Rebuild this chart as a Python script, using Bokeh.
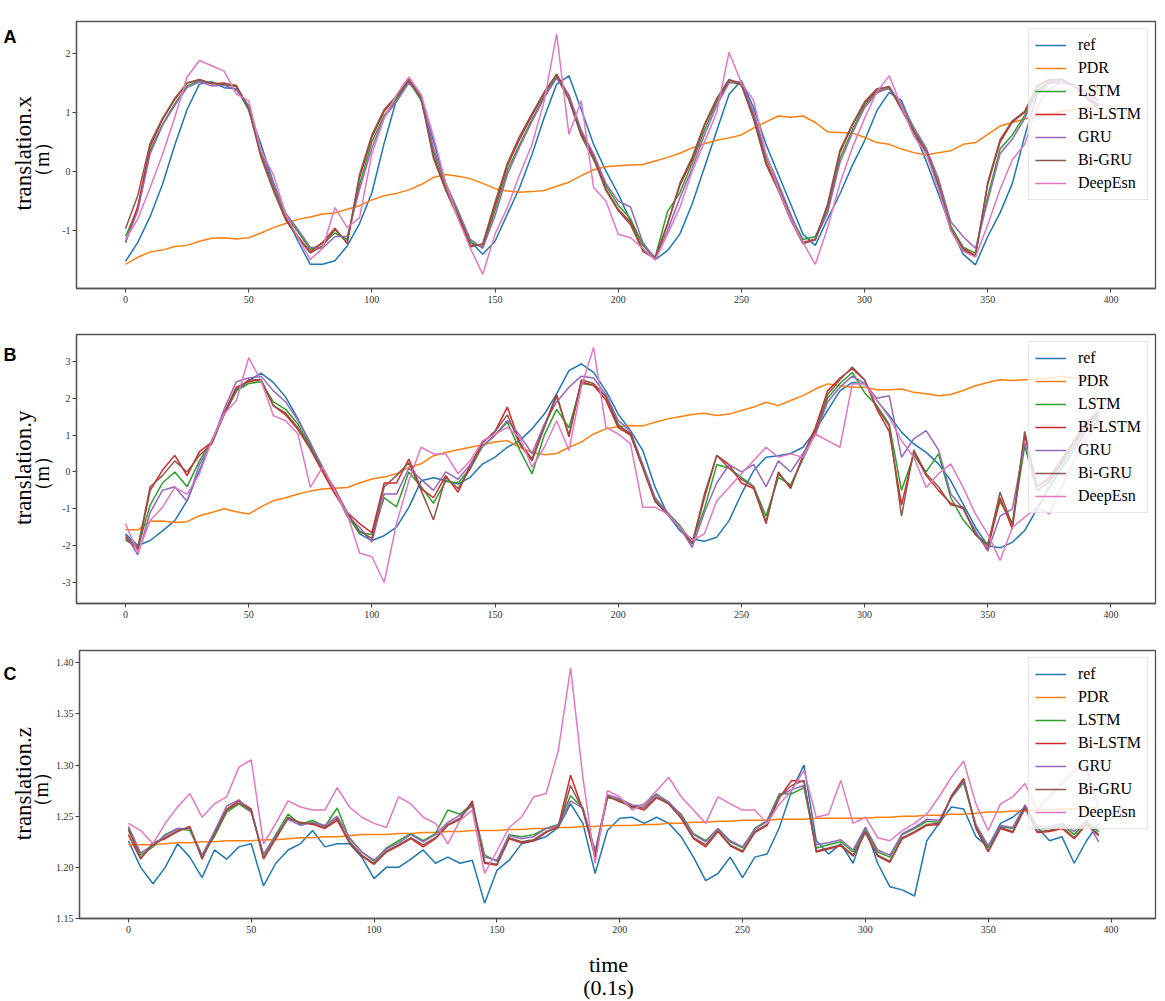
import math
from bokeh.plotting import figure
from bokeh.models import Range1d, FixedTicker, PrintfTickFormatter, Label, Legend, LegendItem
from bokeh.layouts import column, row
from bokeh.embed import file_html
from bokeh.resources import INLINE

# ---------------- data (every 5 time steps) ----------------
T = list(range(0, 400, 5))

NAMES = ["ref", "PDR", "LSTM", "Bi-LSTM", "GRU", "Bi-GRU", "DeepEsn"]
COLORS = ["#1f77b4", "#ff7f0e", "#2ca02c", "#d62728", "#9467bd", "#8c564b", "#e377c2"]
X_TICKS = [0, 50, 100, 150, 200, 250, 300, 350, 400]

# Panel A: translation.x
A_REF = [-1.52, -1.20, -0.76, -0.22, 0.45, 1.05, 1.48, 1.52, 1.42, 1.40,
         1.05, 0.46, -0.18, -0.74, -1.18, -1.57, -1.57, -1.51, -1.26, -0.88,
         -0.36, 0.48, 1.22, 1.56, 1.20, 0.52, -0.21, -0.72, -1.18, -1.40,
         -1.18, -0.72, -0.27, 0.29, 0.92, 1.48, 1.62, 1.05, 0.46, 0.01,
         -0.38, -0.84, -1.23, -1.49, -1.34, -1.06, -0.55, 0.07, 0.69, 1.31,
         1.54, 1.08, 0.46, -0.05, -0.55, -1.06, -1.25, -0.80, -0.38, 0.10,
         0.52, 1.03, 1.34, 1.20, 0.69, 0.18, -0.38, -0.95, -1.40, -1.58,
         -1.10, -0.70, -0.20, 0.60, 1.30, 1.50, 1.50, 1.45, 1.35, 1.20]
A_PDR = [-1.57, -1.45, -1.36, -1.33, -1.27, -1.25, -1.18, -1.13, -1.12, -1.14,
         -1.12, -1.04, -0.95, -0.88, -0.81, -0.77, -0.72, -0.70, -0.64, -0.58,
         -0.48, -0.41, -0.37, -0.31, -0.22, -0.10, -0.05, -0.08, -0.12, -0.20,
         -0.29, -0.33, -0.35, -0.34, -0.32, -0.25, -0.18, -0.07, 0.03, 0.08,
         0.10, 0.11, 0.12, 0.18, 0.24, 0.31, 0.40, 0.47, 0.53, 0.57,
         0.62, 0.74, 0.84, 0.94, 0.92, 0.94, 0.83, 0.67, 0.66, 0.65,
         0.58, 0.49, 0.46, 0.38, 0.32, 0.28, 0.32, 0.35, 0.46, 0.49,
         0.63, 0.77, 0.83, 0.89, 0.94, 0.98, 1.02, 1.05, 1.08, 1.10]
A_LSTM = [-1.10, -0.62, 0.35, 0.80, 1.15, 1.45, 1.54, 1.50, 1.47, 1.44,
          1.04, 0.32, -0.24, -0.74, -1.02, -1.32, -1.22, -1.04, -1.15, -0.22,
          0.50, 0.95, 1.22, 1.52, 1.22, 0.34, -0.24, -0.70, -1.20, -1.28,
          -0.66, 0.02, 0.46, 0.88, 1.28, 1.60, 1.22, 0.60, 0.20, -0.24,
          -0.57, -0.80, -1.25, -1.45, -0.68, -0.36, 0.14, 0.70, 1.18, 1.52,
          1.47, 0.95, 0.22, -0.24, -0.75, -1.15, -1.10, -0.66, 0.22, 0.70,
          1.12, 1.36, 1.40, 1.10, 0.70, 0.37, -0.18, -0.92, -1.28, -1.38,
          -0.42, 0.38, 0.62, 0.95, 1.38, 1.52, 1.55, 1.45, 1.25, 1.10]
A_BILSTM = [-1.20, -0.58, 0.42, 0.88, 1.22, 1.50, 1.56, 1.48, 1.50, 1.44,
            1.10, 0.26, -0.30, -0.80, -1.10, -1.36, -1.20, -0.96, -1.22, -0.10,
            0.58, 1.02, 1.27, 1.56, 1.28, 0.26, -0.30, -0.75, -1.25, -1.24,
            -0.58, 0.10, 0.55, 0.95, 1.33, 1.65, 1.28, 0.66, 0.26, -0.30,
            -0.64, -0.86, -1.32, -1.46, -0.88, -0.24, 0.20, 0.78, 1.22, 1.55,
            1.50, 0.90, 0.15, -0.30, -0.80, -1.20, -1.14, -0.58, 0.32, 0.78,
            1.16, 1.38, 1.44, 1.06, 0.67, 0.33, -0.24, -0.98, -1.30, -1.42,
            -0.22, 0.50, 0.84, 1.00, 1.44, 1.55, 1.56, 1.46, 1.26, 1.12]
A_GRU = [-1.20, -0.66, 0.30, 0.78, 1.12, 1.42, 1.52, 1.45, 1.46, 1.38,
         1.12, 0.36, -0.20, -0.70, -0.98, -1.28, -1.30, -1.10, -1.10, -0.30,
         0.40, 0.92, 1.18, 1.50, 1.30, 0.40, -0.20, -0.66, -1.15, -1.30,
         -0.75, -0.05, 0.42, 0.85, 1.25, 1.58, 1.30, 0.70, 0.30, -0.20,
         -0.50, -0.60, -1.20, -1.48, -1.00, -0.45, 0.05, 0.62, 1.12, 1.50,
         1.52, 1.00, 0.28, -0.20, -0.72, -1.22, -1.15, -0.70, 0.15, 0.65,
         1.08, 1.33, 1.42, 1.15, 0.75, 0.40, -0.12, -0.85, -1.10, -1.30,
         -0.50, 0.30, 0.55, 0.90, 1.35, 1.50, 1.54, 1.44, 1.24, 1.08]
A_BIGRU = [-0.97, -0.40, 0.48, 0.90, 1.24, 1.50, 1.55, 1.50, 1.48, 1.46,
           1.06, 0.24, -0.32, -0.82, -1.12, -1.38, -1.26, -0.98, -1.20, -0.05,
           0.62, 1.05, 1.28, 1.55, 1.24, 0.22, -0.32, -0.78, -1.28, -1.22,
           -0.52, 0.14, 0.60, 0.98, 1.35, 1.64, 1.22, 0.62, 0.22, -0.32,
           -0.66, -0.90, -1.35, -1.48, -0.90, -0.20, 0.24, 0.80, 1.24, 1.56,
           1.46, 0.88, 0.12, -0.32, -0.82, -1.22, -1.16, -0.55, 0.36, 0.80,
           1.18, 1.40, 1.43, 1.05, 0.66, 0.32, -0.26, -1.00, -1.32, -1.44,
           -0.18, 0.54, 0.86, 1.02, 1.45, 1.56, 1.56, 1.46, 1.26, 1.12]
A_DEEPESN = [-1.15, -0.80, -0.27, 0.29, 0.92, 1.60, 1.88, 1.79, 1.70, 1.31,
             1.20, 0.35, -0.05, -0.72, -1.12, -1.49, -1.30, -0.61, -0.95, -0.78,
             0.30, 0.90, 1.30, 1.60, 1.30, 0.60, -0.20, -0.80, -1.30, -1.74,
             -1.06, -0.61, -0.05, 0.46, 1.20, 2.33, 0.63, 1.20, -0.27, -0.50,
             -1.06, -1.12, -1.30, -1.50, -1.06, -0.61, 0.00, 0.50, 1.00, 2.02,
             1.50, 1.20, 0.30, -0.30, -0.80, -1.20, -1.57, -0.95, -0.20, 0.40,
             0.90, 1.35, 1.62, 1.10, 0.60, 0.30, -0.30, -1.00, -1.35, -1.45,
             -0.90, -0.30, 0.20, 0.46, 1.10, 1.40, 1.50, 1.45, 1.30, 1.15]

# Panel B: translation.y
B_REF = [-1.68, -2.00, -1.86, -1.60, -1.32, -0.78, 0.04, 0.85, 1.57, 2.20,
         2.48, 2.68, 2.43, 2.03, 1.44, 0.76, 0.13, -0.50, -1.14, -1.68,
         -1.86, -1.73, -1.50, -0.96, -0.24, -0.16, -0.24, -0.33, -0.14, 0.22,
         0.40, 0.67, 0.85, 1.17, 1.57, 2.12, 2.75, 2.93, 2.70, 2.20,
         1.57, 1.12, 0.58, -0.42, -1.14, -1.59, -1.82, -1.88, -1.77, -1.32,
         -0.60, 0.04, 0.40, 0.44, 0.50, 0.67, 1.12, 1.67, 2.20, 2.43,
         2.39, 1.94, 1.53, 1.08, 0.76, 0.53, 0.22, -0.24, -0.87, -1.50,
         -2.00, -2.06, -1.91, -1.59, -1.00, -0.42, 0.10, 0.60, 1.10, 1.40]
B_PDR = [-1.57, -1.57, -1.34, -1.33, -1.37, -1.35, -1.19, -1.10, -1.00, -1.08,
         -1.14, -0.95, -0.78, -0.70, -0.60, -0.52, -0.46, -0.44, -0.42, -0.30,
         -0.19, -0.14, -0.05, 0.13, 0.22, 0.44, 0.53, 0.60, 0.67, 0.74,
         0.81, 0.85, 0.67, 0.53, 0.47, 0.50, 0.67, 0.81, 1.03, 1.17,
         1.23, 1.26, 1.25, 1.35, 1.44, 1.50, 1.56, 1.59, 1.53, 1.57,
         1.67, 1.76, 1.89, 1.80, 1.94, 2.07, 2.25, 2.39, 2.34, 2.30,
         2.30, 2.23, 2.23, 2.25, 2.16, 2.12, 2.07, 2.10, 2.21, 2.34,
         2.43, 2.50, 2.48, 2.50, 2.52, 2.55, 2.60, 2.55, 2.55, 2.50]
B_LSTM = [-1.85, -2.05, -0.90, -0.30, 0.00, -0.40, 0.30, 0.85, 1.55, 2.20,
          2.40, 2.45, 1.90, 1.70, 1.30, 0.70, 0.05, -0.50, -1.20, -1.65,
          -1.70, -0.70, -0.95, 0.00, -0.40, -0.85, -0.25, -0.30, 0.10, 0.70,
          1.00, 1.35, 0.60, -0.05, 1.00, 1.70, 1.20, 2.40, 2.35, 2.05,
          1.30, 1.00, 0.15, -0.75, -1.10, -1.45, -1.90, -1.00, 0.20, 0.10,
          -0.15, -0.40, -1.20, -0.15, -0.35, 0.35, 1.05, 2.00, 2.40, 2.70,
          2.15, 1.80, 1.30, -0.50, 0.45, 0.00, 0.49, -0.70, -1.30, -1.70,
          -1.95, -0.80, -1.40, 0.70, -0.50, -0.25, 0.25, 0.75, 1.25, 1.55]
B_BILSTM = [-1.80, -2.10, -0.50, 0.05, 0.45, -0.10, 0.55, 0.80, 1.60, 2.30,
            2.45, 2.50, 1.80, 1.55, 1.15, 0.62, 0.00, -0.60, -1.10, -1.40,
            -1.65, -0.30, -0.30, 0.35, -0.45, -0.70, -0.10, -0.55, 0.20, 0.80,
            1.10, 1.76, 0.80, 0.35, 1.25, 2.10, 0.95, 2.45, 2.35, 1.95,
            1.20, 1.00, 0.10, -0.80, -1.15, -1.50, -1.95, -0.70, 0.45, 0.20,
            -0.30, -0.45, -1.40, 0.00, -0.45, 0.45, 1.20, 2.20, 2.55, 2.80,
            2.50, 1.70, 1.10, -0.90, 0.55, -0.10, -0.50, -0.85, -1.00, -1.65,
            -2.10, -0.70, -1.55, 1.00, -0.40, -0.15, 0.35, 0.85, 1.35, 1.65]
B_GRU = [-1.70, -2.25, -1.10, -0.50, -0.40, -0.80, 0.20, 0.80, 1.70, 2.45,
         2.55, 2.60, 2.20, 1.90, 1.40, 0.80, 0.10, -0.50, -1.20, -1.50,
         -1.90, -0.60, -0.60, 0.10, -0.20, -0.50, 0.00, -0.20, 0.20, 0.70,
         1.00, 1.40, 1.00, 0.50, 1.30, 1.90, 2.30, 2.60, 2.55, 2.10,
         1.40, 1.10, 0.20, -0.70, -1.10, -1.50, -2.05, -1.10, -0.30, 0.20,
         0.00, 0.20, -0.40, 0.30, 0.00, 0.50, 1.00, 1.90, 2.30, 2.60,
         2.40, 2.00, 2.07, 0.40, 0.90, 1.12, 0.60, -0.60, -1.00, -1.60,
         -2.15, -1.20, -1.00, 0.80, -0.50, -0.30, 0.20, 0.70, 1.20, 1.50]
B_BIGRU = [-1.75, -2.05, -0.40, -0.10, 0.30, 0.00, 0.45, 0.75, 1.55, 2.25,
           2.50, 2.50, 1.80, 1.60, 1.20, 0.65, 0.05, -0.45, -1.10, -1.60,
           -1.80, -0.40, -0.10, 0.25, -0.50, -1.30, -0.15, -0.45, 0.10, 0.80,
           1.10, 1.55, 0.75, 0.30, 1.20, 2.05, 1.00, 2.50, 2.40, 2.05,
           1.25, 1.05, 0.12, -0.80, -1.15, -1.50, -1.95, -0.60, 0.45, 0.10,
           -0.20, -0.40, -1.35, -0.05, -0.40, 0.40, 1.10, 2.10, 2.50, 2.85,
           2.50, 1.75, 1.25, -1.20, 0.60, -0.05, -0.40, -0.90, -0.95, -1.70,
           -2.00, -0.55, -1.45, 1.10, -0.40, -0.20, 0.30, 0.80, 1.30, 1.60]
B_DEEPESN = [-1.40, -2.20, -1.32, -0.96, -0.42, -0.60, -0.05, 0.85, 1.57, 1.94,
             3.10, 2.48, 1.53, 1.39, 1.03, -0.42, 0.13, -0.50, -1.14, -2.20,
             -2.30, -3.00, -1.40, -0.24, 0.67, 0.49, 0.49, -0.05, 0.31, 0.85,
             1.03, 1.21, 0.94, 0.13, 0.67, 1.39, 0.58, 2.30, 3.38, 1.21,
             1.03, 0.76, -0.96, -0.96, -1.14, -1.50, -1.86, -1.68, -0.78, -0.42,
             -0.05, 0.31, 0.67, 0.40, 0.49, 0.40, 1.03, 0.85, 0.67, 2.39,
             2.39, 1.94, 1.48, 0.85, 0.40, -0.42, -0.05, 0.22, -0.42, -1.14,
             -1.68, -2.40, -1.50, -1.23, -0.96, -1.14, -0.40, 0.30, 0.90, 1.30]

# Panel C: translation.z
C_REF = [1.226, 1.200, 1.184, 1.200, 1.223, 1.210, 1.190, 1.217, 1.208, 1.220,
         1.223, 1.182, 1.204, 1.217, 1.223, 1.236, 1.220, 1.223, 1.223, 1.210,
         1.189, 1.200, 1.200, 1.208, 1.217, 1.204, 1.210, 1.204, 1.207, 1.165,
         1.197, 1.207, 1.223, 1.226, 1.230, 1.239, 1.262, 1.243, 1.194, 1.236,
         1.248, 1.249, 1.243, 1.249, 1.243, 1.230, 1.210, 1.187, 1.194, 1.210,
         1.190, 1.210, 1.213, 1.239, 1.275, 1.300, 1.226, 1.213, 1.223, 1.204,
         1.239, 1.204, 1.181, 1.178, 1.172, 1.226, 1.243, 1.259, 1.257, 1.230,
         1.220, 1.243, 1.249, 1.259, 1.239, 1.226, 1.230, 1.204, 1.226, 1.243]
C_PDR = [1.222, 1.222, 1.222, 1.223, 1.224, 1.224, 1.225, 1.225, 1.226, 1.226,
         1.226, 1.227, 1.227, 1.228, 1.229, 1.229, 1.230, 1.230, 1.231, 1.232,
         1.232, 1.232, 1.233, 1.233, 1.234, 1.234, 1.235, 1.235, 1.236, 1.236,
         1.236, 1.237, 1.237, 1.238, 1.238, 1.239, 1.239, 1.240, 1.240, 1.241,
         1.241, 1.241, 1.242, 1.242, 1.243, 1.243, 1.244, 1.244, 1.245, 1.245,
         1.246, 1.246, 1.246, 1.247, 1.247, 1.247, 1.248, 1.248, 1.248, 1.248,
         1.248, 1.249, 1.249, 1.250, 1.250, 1.251, 1.251, 1.252, 1.252, 1.253,
         1.254, 1.254, 1.255, 1.255, 1.256, 1.256, 1.257, 1.257, 1.258, 1.258]
C_LSTM = [1.236, 1.212, 1.220, 1.232, 1.238, 1.236, 1.212, 1.230, 1.254, 1.262,
          1.254, 1.212, 1.232, 1.252, 1.242, 1.246, 1.240, 1.258, 1.228, 1.215,
          1.206, 1.219, 1.226, 1.233, 1.226, 1.233, 1.256, 1.252, 1.262, 1.212,
          1.206, 1.232, 1.230, 1.232, 1.238, 1.242, 1.270, 1.258, 1.216, 1.268,
          1.266, 1.258, 1.262, 1.272, 1.262, 1.252, 1.233, 1.226, 1.238, 1.225,
          1.219, 1.238, 1.246, 1.272, 1.272, 1.278, 1.219, 1.222, 1.225, 1.215,
          1.238, 1.215, 1.210, 1.232, 1.238, 1.245, 1.244, 1.268, 1.283, 1.240,
          1.219, 1.240, 1.238, 1.260, 1.238, 1.238, 1.242, 1.232, 1.245, 1.235]
C_BILSTM = [1.232, 1.208, 1.224, 1.228, 1.235, 1.240, 1.208, 1.234, 1.257, 1.265,
            1.257, 1.208, 1.228, 1.248, 1.244, 1.242, 1.238, 1.246, 1.224, 1.211,
            1.203, 1.215, 1.221, 1.228, 1.220, 1.228, 1.241, 1.247, 1.265, 1.204,
            1.202, 1.228, 1.224, 1.226, 1.234, 1.240, 1.290, 1.256, 1.210, 1.270,
            1.264, 1.260, 1.256, 1.268, 1.262, 1.248, 1.228, 1.220, 1.235, 1.221,
            1.215, 1.234, 1.241, 1.268, 1.285, 1.284, 1.215, 1.218, 1.221, 1.211,
            1.234, 1.211, 1.205, 1.228, 1.234, 1.241, 1.242, 1.270, 1.287, 1.238,
            1.215, 1.238, 1.234, 1.258, 1.234, 1.235, 1.238, 1.228, 1.242, 1.231]
C_GRU = [1.240, 1.214, 1.222, 1.231, 1.238, 1.238, 1.212, 1.235, 1.260, 1.266,
         1.254, 1.213, 1.231, 1.247, 1.241, 1.244, 1.241, 1.250, 1.229, 1.215,
         1.207, 1.218, 1.224, 1.232, 1.225, 1.232, 1.244, 1.251, 1.260, 1.210,
         1.207, 1.231, 1.228, 1.230, 1.238, 1.241, 1.265, 1.258, 1.215, 1.271,
         1.267, 1.261, 1.260, 1.271, 1.264, 1.251, 1.232, 1.225, 1.238, 1.226,
         1.220, 1.237, 1.245, 1.270, 1.276, 1.280, 1.222, 1.224, 1.227, 1.217,
         1.239, 1.217, 1.212, 1.233, 1.239, 1.247, 1.246, 1.268, 1.284, 1.242,
         1.221, 1.241, 1.239, 1.261, 1.240, 1.240, 1.243, 1.235, 1.246, 1.225]
C_BIGRU = [1.238, 1.209, 1.222, 1.229, 1.236, 1.239, 1.209, 1.232, 1.256, 1.263,
           1.256, 1.209, 1.229, 1.249, 1.243, 1.243, 1.239, 1.248, 1.225, 1.212,
           1.204, 1.216, 1.222, 1.229, 1.222, 1.229, 1.242, 1.248, 1.263, 1.205,
           1.203, 1.229, 1.225, 1.227, 1.235, 1.239, 1.280, 1.256, 1.212, 1.269,
           1.265, 1.259, 1.258, 1.269, 1.262, 1.249, 1.229, 1.222, 1.236, 1.222,
           1.216, 1.235, 1.242, 1.269, 1.280, 1.285, 1.216, 1.219, 1.222, 1.212,
           1.235, 1.212, 1.206, 1.229, 1.235, 1.242, 1.243, 1.269, 1.286, 1.239,
           1.216, 1.239, 1.235, 1.259, 1.235, 1.236, 1.240, 1.229, 1.243, 1.232]
C_DEEPESN = [1.243, 1.236, 1.223, 1.243, 1.259, 1.272, 1.249, 1.262, 1.269, 1.298,
             1.305, 1.223, 1.243, 1.265, 1.259, 1.256, 1.256, 1.278, 1.259, 1.249,
             1.243, 1.239, 1.269, 1.262, 1.249, 1.243, 1.223, 1.246, 1.256, 1.194,
             1.216, 1.239, 1.249, 1.269, 1.272, 1.314, 1.395, 1.288, 1.204, 1.275,
             1.269, 1.256, 1.262, 1.275, 1.288, 1.269, 1.256, 1.243, 1.269, 1.262,
             1.256, 1.256, 1.243, 1.262, 1.275, 1.295, 1.249, 1.252, 1.285, 1.243,
             1.249, 1.229, 1.226, 1.236, 1.243, 1.252, 1.269, 1.288, 1.304, 1.262,
             1.236, 1.262, 1.269, 1.282, 1.256, 1.269, 1.282, 1.295, 1.298, 1.256]

A_TICKS = [-1, 0, 1, 2]
B_TICKS = [-3, -2, -1, 0, 1, 2, 3]
C_TICKS = [1.15, 1.20, 1.25, 1.30, 1.35, 1.40]

# ---------------- styling / layout ----------------
SERIF = "Liberation Serif"
FRAME_LEFT = 76       # page x of the plot frames
FULL_W = 1157
SPINE = "#555555"


def side_strip(side_w, fig_h, letter, letter_y, ylabel, y1, y2, x2):
    s = figure(width=side_w, height=fig_h, output_backend="svg", toolbar_location=None,
               title=None, x_range=Range1d(0, side_w), y_range=Range1d(0, fig_h),
               x_axis_type=None, y_axis_type=None, min_border=0)
    s.grid.visible = False
    s.outline_line_color = None
    s.add_layout(Label(x=3, y=letter_y, text=letter, text_align="left",
                       text_baseline="alphabetic", text_font="Liberation Sans",
                       text_font_style="bold", text_font_size="18px", text_color="black"))
    s.add_layout(Label(x=23, y=y1, text=ylabel, angle=math.pi / 2, text_align="center",
                       text_baseline="middle", text_font=SERIF,
                       text_font_size="23px", text_color="black"))
    s.add_layout(Label(x=x2, y=y2, text="（m）", angle=math.pi / 2, text_align="center",
                       text_baseline="middle", text_font=SERIF,
                       text_font_size="20px", text_color="black"))
    return s


def make_panel(series, y_range, yticks, yfmt, main_w, b_left, fig_h, b_top, b_bottom):
    p = figure(width=main_w, height=fig_h, output_backend="svg", toolbar_location=None,
               x_range=Range1d(-19.9, 418.1), y_range=Range1d(*y_range),
               min_border_left=b_left, min_border_right=2,
               min_border_top=b_top, min_border_bottom=b_bottom)
    p.grid.visible = False
    p.outline_line_color = SPINE
    p.outline_line_width = 1.3

    items = []
    for name, col, ys in zip(NAMES, COLORS, series):
        r = p.line(T, ys, line_color=col, line_width=1.5)
        items.append(LegendItem(label=name, renderers=[r]))

    leg = Legend(items=items, location="top_right", margin=7, padding=6, spacing=3,
                 glyph_width=31, glyph_height=20, label_height=20, label_standoff=12,
                 label_text_font=SERIF, label_text_font_size="16px",
                 label_text_color="black",
                 border_line_color="#cccccc", border_line_width=1,
                 background_fill_color="white", background_fill_alpha=0.8)
    p.add_layout(leg)

    for ax in (p.xaxis[0], p.yaxis[0]):
        ax.axis_line_color = SPINE
        ax.axis_line_width = 1.3
        ax.major_tick_line_color = "#444444"
        ax.major_tick_out = 4
        ax.major_tick_in = 0
        ax.minor_tick_line_color = None
        ax.major_label_text_font = SERIF
        ax.major_label_text_font_size = "10px"
        ax.major_label_text_color = "#333333"
        ax.major_label_standoff = 2
    p.xaxis.major_label_standoff = 3
    p.xaxis.ticker = FixedTicker(ticks=X_TICKS)
    p.xaxis.formatter = PrintfTickFormatter(format="%d")
    p.yaxis.ticker = FixedTicker(ticks=yticks)
    p.yaxis.formatter = PrintfTickFormatter(format=yfmt)
    return p


def panel_row(series, y_range, yticks, yfmt, side_w, fig_h, b_top, b_bottom,
              letter, letter_y, ylabel, x2):
    b_left = FRAME_LEFT - side_w
    p = make_panel(series, y_range, yticks, yfmt, FULL_W - side_w, b_left,
                   fig_h, b_top, b_bottom)
    fh = fig_h - b_top - b_bottom
    cy = b_bottom + fh / 2.0
    s = side_strip(side_w, fig_h, letter, letter_y, ylabel, cy + 1, cy - 6, x2)
    return row(s, p, spacing=0)


# frames: A 21..288, B 334..603, C 650..918 (page pixels)
rA = panel_row([A_REF, A_PDR, A_LSTM, A_BILSTM, A_GRU, A_BIGRU, A_DEEPESN],
               (-1.98, 2.54), A_TICKS, "%d", 54, 311, 21, 23, "A", 293, "translation.x", 41.5)
rB = panel_row([B_REF, B_PDR, B_LSTM, B_BILSTM, B_GRU, B_BIGRU, B_DEEPESN],
               (-3.57, 3.73), B_TICKS, "%d", 54, 316, 23, 24, "B", 292, "translation.y", 41.5)
rC = panel_row([C_REF, C_PDR, C_LSTM, C_BILSTM, C_GRU, C_BIGRU, C_DEEPESN],
               (1.150, 1.412), C_TICKS, "%.2f", 52, 314, 23, 23, "C", 286, "translation.z", 40.5)

# bottom strip with the two-line x label
BOT_H = 58
bottom = figure(width=FULL_W, height=BOT_H, output_backend="svg", toolbar_location=None,
                title=None, x_range=Range1d(0, FULL_W), y_range=Range1d(0, BOT_H),
                x_axis_type=None, y_axis_type=None, min_border=0)
bottom.grid.visible = False
bottom.outline_line_color = None
bottom.add_layout(Label(x=608, y=35, text="time", text_align="center",
                        text_baseline="alphabetic", text_font=SERIF,
                        text_font_size="22px", text_color="black"))
bottom.add_layout(Label(x=608, y=12, text="(0.1s)", text_align="center",
                        text_baseline="alphabetic", text_font=SERIF,
                        text_font_size="22px", text_color="black"))

layout = column(rA, rB, rC, bottom, spacing=0)
open("out.html", "w").write(file_html(layout, INLINE))
